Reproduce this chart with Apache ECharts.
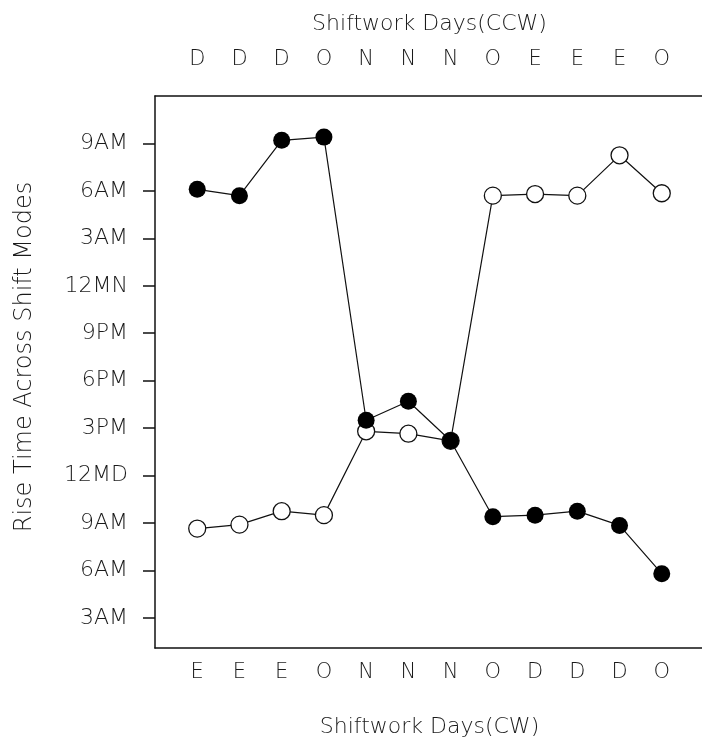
<!DOCTYPE html>
<html>
<head>
<meta charset="utf-8">
<script src="https://cdn.jsdelivr.net/npm/echarts@6/dist/echarts.min.js"></script>
<style>
html,body{margin:0;padding:0;background:#fff;}
#chart{width:702px;height:737px;}
</style>
</head>
<body>
<div id="chart"></div>
<script>
// Shift day labels
var cwDays  = ['E','E','E','O','N','N','N','O','D','D','D','O'];
var ccwDays = ['D','D','D','O','N','N','N','O','E','E','E','O'];
// Rise time (hours from midnight of day 1; 24 = 12MN, 33 = 9AM next day)
var filledRise = [30.1, 29.7, 33.2, 33.4, 15.5, 16.7, 14.2, 9.4, 9.5, 9.75, 8.85, 5.8];
var openRise   = [8.65, 8.9, 9.75, 9.5, 14.8, 14.65, 14.2, 29.7, 29.8, 29.7, 32.25, 29.85];
// Y tick values and labels
var yTickValues = [3, 6, 9, 12, 15, 18, 21, 24, 27, 30, 33];
var yTickLabels = ['3AM','6AM','9AM','12MD','3PM','6PM','9PM','12MN','3AM','6AM','9AM'];

var dayPositions = cwDays.map(function(_, i){ return i + 1; });
var FONT = '"DejaVu Sans", sans-serif';
var TXT = '#1a1a1a';

var chart = echarts.init(document.getElementById('chart'), null, {renderer: 'canvas'});
chart.setOption({
  backgroundColor: '#fff',
  animation: false,
  grid: {left: 155, top: 96, width: 549, bottom: 89, containLabel: false, outerBoundsMode: 'none'},
  xAxis: [
    {
      type: 'value', position: 'bottom', min: 0, max: 13,
      name: 'Shiftwork Days(CW)', nameLocation: 'middle', nameGap: 68,
      nameTextStyle: {fontFamily: FONT, fontSize: 22, fontWeight: 200, color: TXT},
      axisLine: {show: true, lineStyle: {color: '#111', width: 1.5}},
      axisTick: {show: false},
      splitLine: {show: false},
      axisLabel: {
        customValues: dayPositions, margin: 14,
        fontFamily: FONT, fontSize: 21, fontWeight: 200, color: TXT,
        formatter: function(v){ return cwDays[Math.round(v) - 1] || ''; }
      }
    },
    {
      type: 'value', position: 'top', min: 0, max: 13,
      name: 'Shiftwork Days(CCW)', nameLocation: 'middle', nameGap: 61,
      nameTextStyle: {fontFamily: FONT, fontSize: 22, fontWeight: 200, color: TXT},
      axisLine: {show: true, lineStyle: {color: '#111', width: 1.5}},
      axisTick: {show: false},
      splitLine: {show: false},
      axisLabel: {
        customValues: dayPositions, margin: 26,
        fontFamily: FONT, fontSize: 21, fontWeight: 200, color: TXT,
        formatter: function(v){ return ccwDays[Math.round(v) - 1] || ''; }
      }
    }
  ],
  yAxis: {
    type: 'value', min: 1.1, max: 36,
    name: 'Rise Time Across Shift Modes', nameLocation: 'middle', nameGap: 118,
    nameTextStyle: {fontFamily: FONT, fontSize: 24, fontWeight: 200, color: TXT, padding: [0, 0, 0, 30]},
    axisLine: {show: true, lineStyle: {color: '#111', width: 1.5}},
    axisTick: {show: true, inside: false, length: 12, customValues: yTickValues, lineStyle: {color: '#111', width: 1.5}},
    splitLine: {show: false},
    axisLabel: {
      customValues: yTickValues, margin: 27,
      fontFamily: FONT, fontSize: 22, fontWeight: 200, color: TXT,
      formatter: function(v){
        var i = yTickValues.indexOf(Math.round(v));
        return i >= 0 ? yTickLabels[i] : '';
      }
    }
  },
  series: [
    {
      type: 'line', xAxisIndex: 0, z: 2,
      data: openRise.map(function(v, i){ return [i + 1, v]; }),
      symbol: 'circle', symbolSize: 17,
      itemStyle: {color: '#fff', borderColor: '#111', borderWidth: 1.3},
      lineStyle: {color: '#111', width: 1.2}
    },
    {
      type: 'line', xAxisIndex: 0, z: 3,
      data: filledRise.map(function(v, i){ return [i + 1, v]; }),
      symbol: 'circle', symbolSize: 17,
      itemStyle: {color: '#000', borderColor: '#000', borderWidth: 0},
      lineStyle: {color: '#111', width: 1.2}
    }
  ]
});
</script>
</body>
</html>
